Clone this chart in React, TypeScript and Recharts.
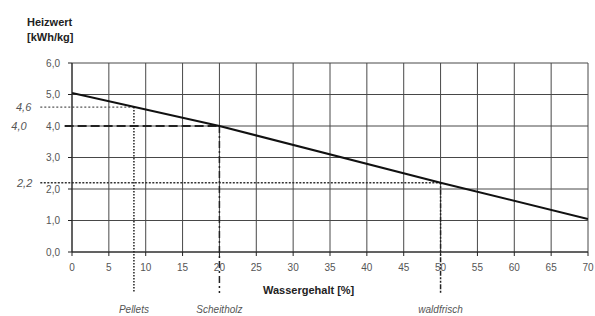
import React from 'react';
import { LineChart, Line, XAxis, YAxis, CartesianGrid, ReferenceLine } from 'recharts';

// Heizwert over Wassergehalt
const moisture = [0, 20, 50, 70];
const heatValue = [5.05, 4.0, 2.2, 1.05];

const xTicks = [0, 5, 10, 15, 20, 25, 30, 35, 40, 45, 50, 55, 60, 65, 70];
const yTicks = [0, 1, 2, 3, 4, 5, 6];

// marked fuels
const fuelNames = ['Pellets', 'Scheitholz', 'waldfrisch'];
const fuelMoisture = [8.4, 20, 50];
const fuelValue = [4.6, 4.0, 2.2];
const fuelValueLabels = ['4,6', '4,0', '2,2'];

const chartData = moisture.map((m, i) => ({ m, h: heatValue[i] }));

const FONT = '"Liberation Sans", Arial, sans-serif';

// line styles for each marker (horizontal start, dash, width, label offset)
const markerStyle = [
    { xStart: -4.3, dash: '2 2', width: 1.2, color: '#555', labelOffset: 9 },
    { xStart: -1, dash: '9 4', width: 2.2, color: '#222', labelOffset: 38 },
    { xStart: -4.3, dash: '2 1.5', width: 1.6, color: '#333', labelOffset: 8 },
];
const vertDash = ['1.5 1.5', '7 3 2 3', '2 1.5 2 1.5 5 1.5'];

export default function App() {
    return (
        <div style={{ position: 'absolute', left: 0, top: 0, width: 595, height: 316, background: '#fff', fontFamily: FONT }}>
            <div style={{ position: 'absolute', left: 27, top: 15, fontSize: 11, fontWeight: 700, color: '#222', lineHeight: '15px' }}>
                Heizwert<br />[kWh/kg]
            </div>
            <div style={{ position: 'absolute', left: 263, top: 284, fontSize: 11, fontWeight: 700, color: '#222' }}>
                Wassergehalt [%]
            </div>
            <LineChart width={595} height={316} data={chartData} margin={{ top: 63, right: 7, left: 0, bottom: 34 }}>
                <CartesianGrid stroke="#484848" strokeWidth={1} />
                <XAxis
                    dataKey="m"
                    type="number"
                    domain={[0, 70]}
                    ticks={xTicks}
                    interval={0}
                    height={30}
                    tickSize={4}
                    tickMargin={8}
                    stroke="#222"
                    tick={{ fill: '#555', fontSize: 10, fontFamily: FONT }}
                    allowDataOverflow
                />
                <YAxis
                    type="number"
                    domain={[0, 6]}
                    ticks={yTicks}
                    interval={0}
                    width={72}
                    tickSize={4}
                    tickMargin={8}
                    stroke="#222"
                    tick={{ fill: '#555', fontSize: 10, fontFamily: FONT }}
                    tickFormatter={(v) => v.toFixed(1).replace('.', ',')}
                    allowDataOverflow
                />
                {fuelNames.map((name, i) => (
                    <ReferenceLine
                        key={'h' + name}
                        segment={[{ x: markerStyle[i].xStart, y: fuelValue[i] }, { x: fuelMoisture[i], y: fuelValue[i] }]}
                        ifOverflow="visible"
                        stroke={markerStyle[i].color}
                        strokeWidth={markerStyle[i].width}
                        strokeDasharray={markerStyle[i].dash}
                        label={{
                            value: fuelValueLabels[i],
                            position: 'left',
                            offset: markerStyle[i].labelOffset,
                            fill: '#555',
                            fontSize: 11,
                            fontStyle: 'italic',
                            fontFamily: FONT,
                        }}
                    />
                ))}
                {fuelNames.map((name, i) => (
                    <ReferenceLine
                        key={'v' + name}
                        segment={[{ x: fuelMoisture[i], y: fuelValue[i] }, { x: fuelMoisture[i], y: -1.3 }]}
                        ifOverflow="visible"
                        stroke="#222"
                        strokeWidth={1.5}
                        strokeDasharray={vertDash[i]}
                        label={{
                            value: name,
                            position: 'bottom',
                            offset: 13,
                            fill: '#555',
                            fontSize: 10,
                            fontStyle: 'italic',
                            fontFamily: FONT,
                        }}
                    />
                ))}
                <Line
                    type="linear"
                    dataKey="h"
                    stroke="#111"
                    strokeWidth={2}
                    dot={false}
                    activeDot={false}
                    isAnimationActive={false}
                />
            </LineChart>
        </div>
    );
}
